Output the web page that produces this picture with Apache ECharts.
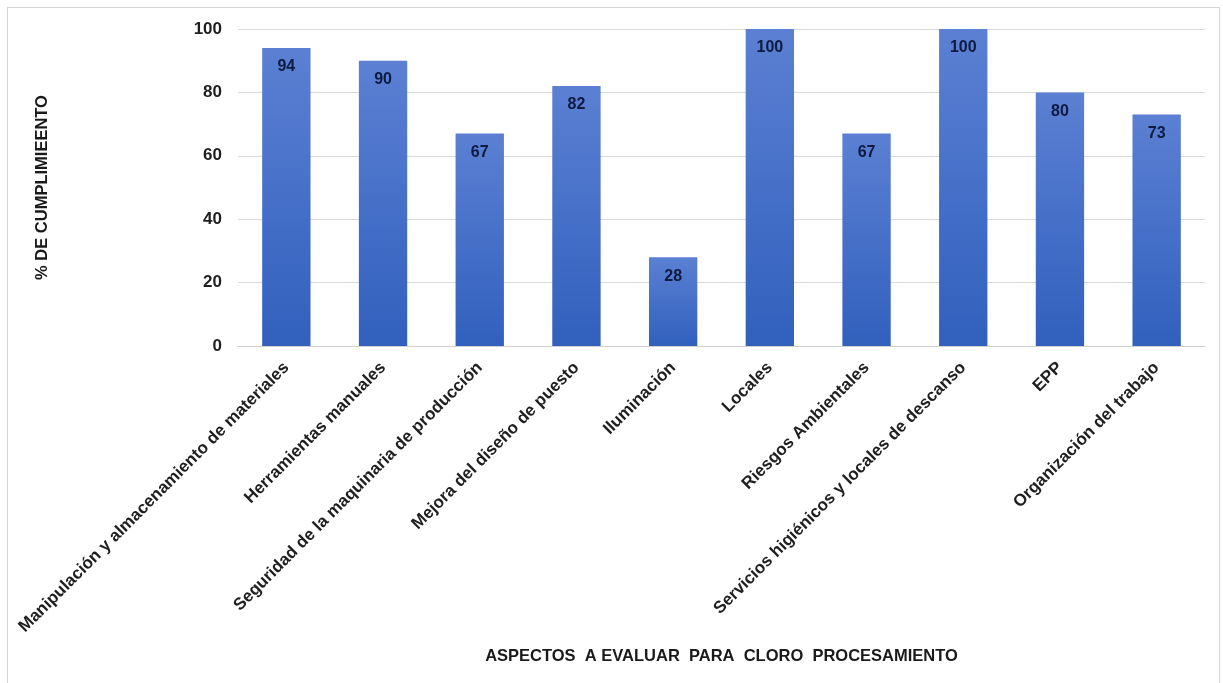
<!DOCTYPE html>
<html>
<head>
<meta charset="utf-8">
<script src="https://cdn.jsdelivr.net/npm/echarts@6/dist/echarts.min.js"></script>
<style>
  html, body { margin: 0; padding: 0; background: #fff; }
  #frame { position: absolute; left: 7px; top: 7px; width: 1213px; height: 700px; border: 1px solid #d4d4d4; box-sizing: border-box; }
  #chart { position: absolute; left: 0; top: 0; width: 1223px; height: 683px; }
</style>
</head>
<body>
<div id="frame"></div>
<div id="chart"></div>
<script>
const categories = [
  'Manipulación y almacenamiento de materiales',
  'Herramientas manuales',
  'Seguridad de la maquinaria de producción',
  'Mejora del diseño de puesto',
  'Iluminación',
  'Locales',
  'Riesgos Ambientales',
  'Servicios higiénicos y locales de descanso',
  'EPP',
  'Organización del trabajo'
]
const cumplimiento = [94, 90, 67, 82, 28, 100, 67, 100, 80, 73]
const yTicks = { min: 0, max: 100, interval: 20 }

const font = '"Liberation Sans", Arial, sans-serif'
const chart = echarts.init(document.getElementById('chart'), null, { renderer: 'canvas' })

chart.setOption({
  animation: false,
  grid: { left: 238, right: 18, top: 29, bottom: 337, containLabel: false },
  xAxis: {
    type: 'category',
    data: categories,
    name: 'ASPECTOS  A EVALUAR  PARA  CLORO  PROCESAMIENTO',
    nameLocation: 'middle',
    nameGap: 302,
    nameTextStyle: { fontFamily: font, fontWeight: 'bold', fontSize: 16.5, color: '#1a1a1a' },
    axisLine: { lineStyle: { color: '#d0d0d0' } },
    axisTick: { show: false },
    axisLabel: {
      interval: 0,
      rotate: 45,
      margin: 19,
      fontFamily: font,
      fontWeight: 'bold',
      fontSize: 17,
      color: '#1f1f1f'
    }
  },
  yAxis: {
    type: 'value',
    min: yTicks.min,
    max: yTicks.max,
    interval: yTicks.interval,
    name: '% DE CUMPLIMIEENTO',
    nameLocation: 'middle',
    nameRotate: 90,
    nameGap: 187,
    nameTextStyle: { fontFamily: font, fontWeight: 'bold', fontSize: 16.5, color: '#1a1a1a' },
    axisLine: { show: false },
    axisTick: { show: false },
    splitLine: { lineStyle: { color: '#d9d9d9' } },
    axisLabel: { margin: 16, fontFamily: font, fontWeight: 'bold', fontSize: 17, color: '#1f1f1f' }
  },
  series: [{
    type: 'bar',
    data: cumplimiento,
    barWidth: '50%',
    itemStyle: {
      color: {
        type: 'linear', x: 0, y: 0, x2: 0, y2: 1,
        colorStops: [
          { offset: 0, color: '#5b80d3' },
          { offset: 1, color: '#3160bd' }
        ]
      }
    },
    label: {
      show: true,
      position: 'insideTop',
      distance: 11,
      fontFamily: font,
      fontWeight: 'bold',
      fontSize: 16,
      color: '#0e1a40'
    }
  }]
})
</script>
</body>
</html>
